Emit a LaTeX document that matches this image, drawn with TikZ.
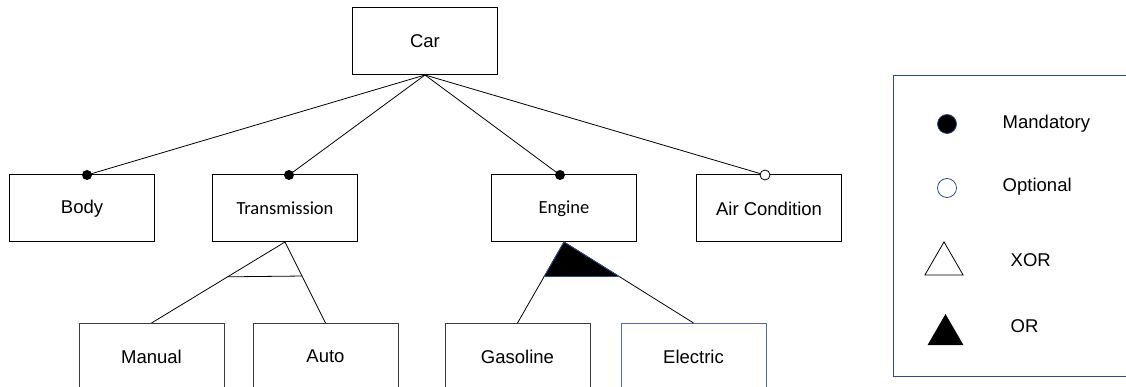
\documentclass[tikz,border=0pt]{standalone}
\usepackage{fontspec}
\setmainfont{Liberation Sans}
\newfontfamily\calibri{Carlito}
\usepackage{xcolor}
\usepackage{tikz}
\usetikzlibrary{positioning, shapes.geometric}

\definecolor{legblue}{RGB}{47,74,138}
\definecolor{elecblue}{RGB}{84,106,160}
\definecolor{boxgray}{RGB}{60,60,60}

\tikzset{
  feat/.style={draw=black, line width=1pt, minimum width=145pt, minimum height=67pt,
    inner sep=0pt, outer sep=0pt, font=\fontsize{18.5}{22}\selectfont},
  mand/.style={circle, fill=black, inner sep=0pt, outer sep=0pt, minimum size=10pt},
  opt/.style={circle, draw=black, fill=white, line width=0.8pt, inner sep=0pt, outer sep=0pt, minimum size=10pt},
  legtext/.style={anchor=west, font=\fontsize{18.5}{22}\selectfont}
}

\begin{document}
\begin{tikzpicture}[x=1pt, y=-1pt, line width=0.8pt]
        \useasboundingbox (0,0) rectangle (1126,387);
        \clip (0,0) rectangle (1126,387);

        \node[feat] (car) at (425,41.5) {Car};
        \node[feat] (body) at (82,208.5) {Body};
        \node[feat] (trans) [right=58pt of body, font=\calibri\fontsize{18.5}{22}\selectfont] {Transmission};
        \node[feat] (engine) [right=134pt of trans, font=\calibri\fontsize{18.5}{22}\selectfont] {Engine};
        \node[feat] (air) [right=60pt of engine] {Air Condition};

        \node[feat, draw=boxgray] (manual) at (151.5,356.5) {Manual};
        \node[feat, draw=boxgray] (auto) [right=29pt of manual] {Auto};
        \node[feat, draw=boxgray] (gasoline) [right=47pt of auto] {Gasoline};
        \node[feat, draw=elecblue] (electric) [right=31pt of gasoline] {Electric};

        \path
        (car.south) edge node[at end, mand] {} ([xshift=5pt]body.north)
        (car.south) edge node[at end, mand] {} ([xshift=4pt]trans.north)
        (car.south) edge node[at end, mand] {} ([xshift=-4pt]engine.north)
        (car.south) edge node[at end, opt] {} ([xshift=-4pt]air.north)
        (trans.south) edge (manual.north)
        (trans.south) edge (auto.north)
        (engine.south) edge (gasoline.north)
        (engine.south) edge (electric.north);

        % xor group
        \path (trans.south) -- (manual.north) coordinate[pos=0.43] (xorl);
        \path (trans.south) -- (auto.north) coordinate[pos=0.42] (xorr);
        \draw (xorl) -- (xorr);

        % or group
        \path (engine.south) -- (gasoline.north) coordinate[pos=0.425] (orl);
        \path (engine.south) -- (electric.north) coordinate[pos=0.425] (orr);
        \filldraw[fill=black, draw=legblue] (engine.south) -- (orl) -- (orr) -- cycle;

        % legend
        \node[draw=legblue, line width=1pt, anchor=north west, minimum width=260pt, minimum height=301pt, inner sep=0pt] (legend) at (893,75) {};
        \node[mand, draw=legblue, minimum size=19pt] (lmand) at (947,124) {};
        \node[opt, draw=legblue, minimum size=19pt] (lopt) at (947,188) {};
        \node[regular polygon, regular polygon sides=3, draw=black, line width=0.8pt, inner sep=0pt, minimum size=44pt] (lxor) at (944,263.9) {};
        \node[regular polygon, regular polygon sides=3, fill=black, inner sep=0pt, minimum size=41.6pt] (lor) at (945.5,334.8) {};
        \node[legtext] (tmand) at (999,124) {Mandatory};
        \node[legtext] (topt) at (999,187) {Optional};
        \node[legtext] (txor) at (1007,260) {XOR};
        \node[legtext] (tor) at (1007,326) {OR};

\end{tikzpicture}
\end{document}
